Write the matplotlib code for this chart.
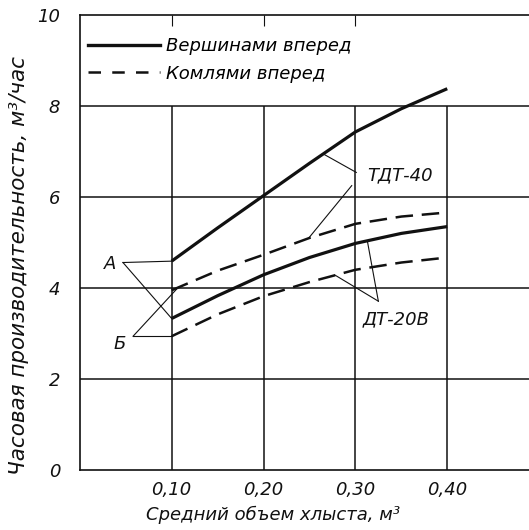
import numpy as np
import matplotlib
matplotlib.use("Agg")
import matplotlib.pyplot as plt
from matplotlib.lines import Line2D

# ---- data ----
x_vol = [0.10, 0.15, 0.20, 0.25, 0.30, 0.35, 0.40]
tdt40_tops = [4.59, 5.32, 6.03, 6.74, 7.43, 7.94, 8.38]   # ТДТ-40, вершинами вперед
tdt40_butts = [3.95, 4.38, 4.73, 5.10, 5.41, 5.57, 5.66]  # ТДТ-40, комлями вперед
dt20_tops = [3.33, 3.83, 4.29, 4.67, 4.98, 5.20, 5.35]    # ДТ-20В, вершинами вперед
dt20_butts = [2.94, 3.42, 3.82, 4.13, 4.40, 4.56, 4.67]   # ДТ-20В, комлями вперед
x_ticks = [0.10, 0.20, 0.30, 0.40]
x_ticklabels = ["0,10", "0,20", "0,30", "0,40"]
y_ticks = [0, 2, 4, 6, 8, 10]
y_ticklabels = ["0", "2", "4", "6", "8", "10"]
legend_labels = ["Вершинами вперед", "Комлями вперед"]

plt.rcParams['font.family'] = ['DejaVu Sans']
plt.rcParams['font.style'] = 'italic'

fig = plt.figure(figsize=(5.29, 5.30), dpi=100)
ax = fig.add_axes([79.8/529, 1-470/530, (529-79.8)/529, 455/530])
ax.set_xlim(0, 0.489)
ax.set_ylim(0, 10)

ink = "#111111"
for s in ["left", "bottom", "top"]:
    ax.spines[s].set_linewidth(1.2)
    ax.spines[s].set_color(ink)
ax.spines["right"].set_visible(False)

# grid
for yv in [2, 4, 6, 8]:
    ax.axhline(yv, color=ink, lw=1.1, zorder=1)
ax.vlines(x_ticks, 0, 8, color=ink, lw=1.1, zorder=1)
ax.vlines(x_ticks[:3], 9.75, 10, color=ink, lw=0.8, zorder=1)

# curves
lw_s, lw_d = 2.3, 1.8
ax.plot(x_vol, tdt40_tops, color=ink, lw=lw_s, solid_capstyle="butt", zorder=3)
ax.plot(x_vol, dt20_tops, color=ink, lw=lw_s, solid_capstyle="butt", zorder=3)
ax.plot(x_vol, tdt40_butts, color=ink, lw=lw_d, dashes=(7, 3.5), zorder=3)
ax.plot(x_vol, dt20_butts, color=ink, lw=lw_d, dashes=(7, 3.5), zorder=3)

# leader lines
def on(curve, xv):
    return float(np.interp(xv, x_vol, curve))

lk = dict(color=ink, lw=0.8, zorder=2)
# A
va = (0.047, 4.56)
ax.plot([va[0], x_vol[0]], [va[1], tdt40_tops[0]], **lk)
ax.plot([va[0], x_vol[0]], [va[1], dt20_tops[0]], **lk)
# Б
vb = (0.058, 2.94)
ax.plot([vb[0], x_vol[0]], [vb[1], dt20_butts[0]], **lk)
ax.plot([vb[0], 0.107], [vb[1], on(tdt40_butts, 0.107)], **lk)
# ТДТ-40
ax.plot([0.301, 0.265], [6.54, on(tdt40_tops, 0.265)], **lk)
ax.plot([0.296, 0.249], [6.25, on(tdt40_butts, 0.249)], **lk)
# ДТ-20В
vd = (0.325, 3.71)
ax.plot([vd[0], 0.313], [vd[1], on(dt20_tops, 0.313)], **lk)
ax.plot([vd[0], 0.278], [vd[1], on(dt20_butts, 0.278)], **lk)

fs = 13
ax.text(0.033, 4.52, "А", ha="center", va="center", fontsize=fs, color=ink)
ax.text(0.043, 2.78, "Б", ha="center", va="center", fontsize=fs, color=ink)
ax.text(0.313, 6.47, "ТДТ-40", ha="left", va="center", fontsize=fs, color=ink)
ax.text(0.308, 3.31, "ДТ-20В", ha="left", va="center", fontsize=fs, color=ink)

# ticks
ax.set_xticks(x_ticks)
ax.set_xticklabels(x_ticklabels, fontsize=fs, color=ink)
ax.set_yticks(y_ticks)
ax.set_yticklabels(y_ticklabels, fontsize=fs, color=ink)
ax.tick_params(axis="both", length=0)
ax.tick_params(axis="x", pad=8)
ax.tick_params(axis="y", pad=14)

ax.set_xlabel("Средний объем хлыста, м³", fontsize=13, color=ink)
ax.xaxis.set_label_coords(0.43, -0.099)
ax.xaxis.label.set_va("center")
ax.set_ylabel("Часовая производительность, м³/час", fontsize=15.5, color=ink)
ax.yaxis.set_label_coords(-0.135, 0.45)
ax.yaxis.label.set_va("center")

# legend
handles = [Line2D([0], [0], color=ink, lw=2.4),
           Line2D([0], [0], color=ink, lw=1.8, linestyle=(0, (5, 4.5)))]
ax.legend(handles, legend_labels, loc="upper left", bbox_to_anchor=(0.018, 0.952),
          frameon=False, fontsize=fs, handlelength=4.0, handletextpad=0.35,
          labelspacing=0.55, borderpad=0, borderaxespad=0)

fig.savefig("out.png", dpi=100)
